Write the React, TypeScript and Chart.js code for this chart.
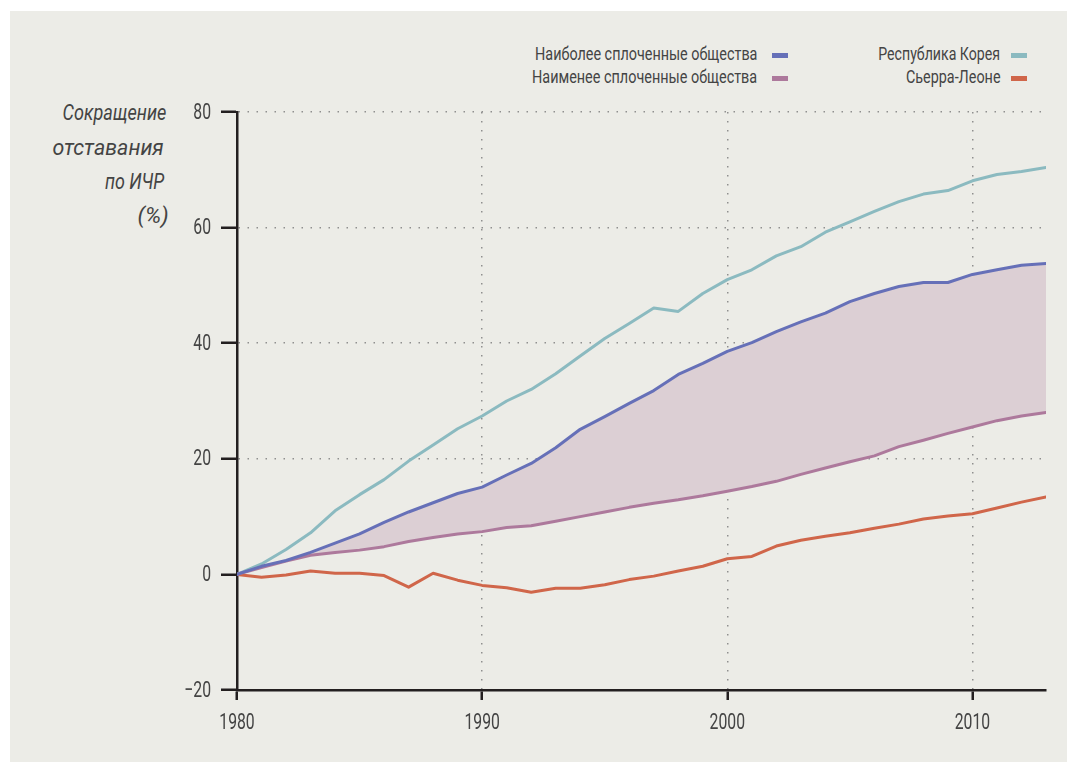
import React, { useEffect, useLayoutEffect, useRef } from 'react';
import { Chart, registerables } from 'chart.js';

Chart.register(...registerables);

const years = [
  1980, 1981, 1982, 1983, 1984, 1985, 1986, 1987, 1988, 1989,
  1990, 1991, 1992, 1993, 1994, 1995, 1996, 1997, 1998, 1999,
  2000, 2001, 2002, 2003, 2004, 2005, 2006, 2007, 2008, 2009,
  2010, 2011, 2012, 2013,
];

const mostCohesive = [
  0, 1.4, 2.4, 3.8, 5.4, 7.0, 9.0, 10.8, 12.4, 14.0,
  15.1, 17.2, 19.2, 21.9, 25.1, 27.3, 29.6, 31.8, 34.6, 36.5,
  38.6, 40.1, 42.0, 43.7, 45.2, 47.2, 48.6, 49.8, 50.5, 50.5,
  51.9, 52.7, 53.5, 53.8,
];

const leastCohesive = [
  0, 1.2, 2.3, 3.3, 3.8, 4.2, 4.8, 5.7, 6.4, 7.0,
  7.4, 8.1, 8.4, 9.2, 10.0, 10.8, 11.6, 12.3, 12.9, 13.6,
  14.4, 15.2, 16.1, 17.3, 18.4, 19.5, 20.5, 22.1, 23.2, 24.4,
  25.5, 26.6, 27.4, 28.0,
];

const korea = [
  0, 1.8, 4.3, 7.2, 11.0, 13.8, 16.4, 19.6, 22.4, 25.2,
  27.4, 30.0, 32.0, 34.7, 37.8, 40.8, 43.4, 46.1, 45.5, 48.6,
  51.0, 52.7, 55.1, 56.7, 59.2, 61.0, 62.8, 64.5, 65.8, 66.4,
  68.1, 69.2, 69.7, 70.4,
];

const sierraLeone = [
  0, -0.5, -0.1, 0.6, 0.2, 0.2, -0.2, -2.2, 0.2, -1.0,
  -1.9, -2.3, -3.1, -2.4, -2.4, -1.8, -0.9, -0.3, 0.6, 1.4,
  2.7, 3.1, 4.9, 5.9, 6.6, 7.2, 8.0, 8.7, 9.6, 10.1,
  10.5, 11.5, 12.5, 13.4,
];

const xTicks = [1980, 1990, 2000, 2010];
const yTicks = [-20, 0, 20, 40, 60, 80];

const seriesLabels = [
  'Наиболее сплоченные общества',
  'Наименее сплоченные общества',
  'Республика Корея',
  'Сьерра-Леоне',
];
const yTitle = ['Сокращение', 'отставания', 'по ИЧР', '(%)'];

const BLUE = '#6670b8';
const PURPLE = '#ad799c';
const TEAL = '#8bbac0';
const RED = '#d0664a';
const FILL = '#dccfd4';
const AXIS = '#231f20';
const GRID = '#8f8f8f';
const TXT = '#444444';
const BG = '#ecece7';
const FONT = "Roboto, 'Liberation Sans', 'DejaVu Sans Condensed', sans-serif";
const TICK_FONT_SIZE = 22.5;
const TICK_SCALE_X = 0.7;

const pts = (arr: number[]) => years.map((y, i) => ({ x: y, y: arr[i] }));
const fmtY = (v: number) => (v < 0 ? '\u2212' + Math.abs(v) : String(v));
const fmtX = (v: number) => String(v);

type FitProps = {
  text: string;
  right: number;
  baseline: number;
  width: number;
  size: number;
  italic?: boolean;
  weight?: number;
};

function FitText({ text, right, baseline, width, size, italic, weight }: FitProps) {
  const ref = useRef<HTMLDivElement>(null);
  useLayoutEffect(() => {
    const el = ref.current;
    if (!el) return;
    const natural = el.offsetWidth;
    if (natural > 0) el.style.transform = `scaleX(${width / natural})`;
  }, [text, width]);
  return (
    <div
      ref={ref}
      style={{
        position: 'absolute',
        right: 1068 - right,
        top: baseline - 0.842 * size,
        fontSize: size,
        lineHeight: `${size}px`,
        fontFamily: FONT,
        fontStyle: italic ? 'italic' : 'normal',
        fontWeight: weight ?? 400,
        color: TXT,
        whiteSpace: 'nowrap',
        transformOrigin: 'right center',
      }}
    >
      {text}
    </div>
  );
}

// Draws condensed tick labels at the positions given by the chart's own scales.
const tickLabelPlugin = {
  id: 'condensedTickLabels',
  afterDraw(chart: any) {
    const ctx = chart.ctx as CanvasRenderingContext2D;
    const xs = chart.scales.x;
    const ys = chart.scales.y;
    ctx.save();
    ctx.fillStyle = TXT;
    ctx.font = `${TICK_FONT_SIZE}px ${FONT}`;
    ctx.textBaseline = 'alphabetic';
    xs.ticks.forEach((t: any) => {
      const px = xs.getPixelForValue(t.value);
      ctx.save();
      ctx.translate(px, xs.top + 39);
      ctx.scale(TICK_SCALE_X, 1);
      ctx.textAlign = 'center';
      ctx.fillText(fmtX(t.value), 0, 0);
      ctx.restore();
    });
    ys.ticks.forEach((t: any) => {
      const py = ys.getPixelForValue(t.value);
      ctx.save();
      ctx.translate(ys.right - 26, py + 6.5);
      ctx.scale(TICK_SCALE_X, 1);
      ctx.textAlign = 'right';
      ctx.fillText(fmtY(t.value), 0, 0);
      ctx.restore();
    });
    ctx.restore();
  },
};

export default function App() {
  const ref = useRef<HTMLCanvasElement>(null);

  useEffect(() => {
    const canvas = ref.current!;
    const lineBase = {
      pointRadius: 0,
      borderWidth: 3,
      tension: 0,
      borderJoinStyle: 'round' as const,
      borderCapStyle: 'round' as const,
    };
    const chart = new Chart(canvas, {
      type: 'line',
      data: {
        datasets: [
          { ...lineBase, label: seriesLabels[0], data: pts(mostCohesive), borderColor: BLUE, backgroundColor: FILL, fill: '+1' },
          { ...lineBase, label: seriesLabels[1], data: pts(leastCohesive), borderColor: PURPLE, fill: false },
          { ...lineBase, label: seriesLabels[2], data: pts(korea), borderColor: TEAL, fill: false },
          { ...lineBase, label: seriesLabels[3], data: pts(sierraLeone), borderColor: RED, fill: false },
        ],
      },
      options: {
        animation: false,
        responsive: false,
        maintainAspectRatio: false,
        events: [],
        layout: { padding: { left: 177, right: 22, top: 112, bottom: 22 } },
        plugins: {
          legend: { display: false },
          tooltip: { enabled: false },
          filler: { drawTime: 'beforeDatasetsDraw' },
        } as any,
        scales: {
          x: {
            type: 'linear',
            min: 1980,
            max: 2013,
            afterBuildTicks: (s: any) => { s.ticks = xTicks.map((v) => ({ value: v })); },
            afterFit: (s: any) => { s.height = 50; },
            grid: {
              color: (c: any) => (c.tick && c.tick.value === 1980 ? 'rgba(0,0,0,0)' : GRID),
              lineWidth: 1.5,
              drawTicks: true,
              tickLength: 10,
              tickColor: AXIS,
              tickWidth: 2.5,
              tickBorderDash: [],
            },
            border: { display: true, color: AXIS, width: 2.5, dash: [1.5, 7.5] },
            ticks: { display: false, autoSkip: false, maxRotation: 0, callback: (v: any) => fmtX(Number(v)) },
          },
          y: {
            type: 'linear',
            min: -20,
            max: 80,
            afterBuildTicks: (s: any) => { s.ticks = yTicks.map((v) => ({ value: v })); },
            afterFit: (s: any) => { s.width = 60; },
            grid: {
              color: (c: any) => (c.tick && (c.tick.value === 0 || c.tick.value === -20) ? 'rgba(0,0,0,0)' : GRID),
              lineWidth: 1.5,
              drawTicks: true,
              tickLength: 16,
              tickColor: AXIS,
              tickWidth: 2.5,
              tickBorderDash: [],
            },
            border: { display: true, color: AXIS, width: 2.5, dash: [1.5, 7.5] },
            ticks: { display: false, autoSkip: false, callback: (v: any) => fmtY(Number(v)) },
          },
        },
      },
      plugins: [tickLabelPlugin],
    });
    return () => chart.destroy();
  }, []);

  const swatch = (left: number, centerY: number, color: string) => (
    <div style={{ position: 'absolute', left, top: centerY - 2.5, width: 16, height: 5, background: color }} />
  );

  return (
    <div style={{ position: 'fixed', left: 0, top: 0, width: 1068, height: 762, background: '#ffffff', overflow: 'hidden' }}>
      <div style={{ position: 'absolute', left: 10, top: 11, width: 1057, height: 751, background: BG }} />

      <FitText text={yTitle[0]} right={166.7} baseline={120} width={103.5} size={21.5} italic />
      <FitText text={yTitle[1]} right={163.5} baseline={155} width={111.5} size={21.5} italic />
      <FitText text={yTitle[2]} right={164} baseline={189.5} width={59} size={21.5} italic />
      <FitText text={yTitle[3]} right={168.3} baseline={223.5} width={31.6} size={21.5} italic />

      <FitText text={seriesLabels[0]} right={757} baseline={60} width={222} size={18} />
      {swatch(772, 55, BLUE)}
      <FitText text={seriesLabels[1]} right={757} baseline={83.5} width={225} size={18} />
      {swatch(772, 78.5, PURPLE)}
      <FitText text={seriesLabels[2]} right={1000} baseline={60} width={121.7} size={18} />
      {swatch(1011, 55, TEAL)}
      <FitText text={seriesLabels[3]} right={1000} baseline={83.5} width={95} size={18} />
      {swatch(1011, 78.5, RED)}

      <canvas ref={ref} width={1068} height={762} style={{ position: 'absolute', left: 0, top: 0, width: 1068, height: 762 }} />
    </div>
  );
}
